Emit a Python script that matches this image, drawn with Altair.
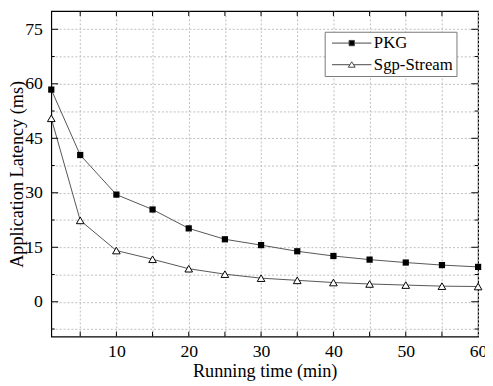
import altair as alt
import pandas as pd

times = [1, 5, 10, 15, 20, 25, 30, 35, 40, 45, 50, 55, 60]
pkg = [58.4, 40.4, 29.5, 25.4, 20.2, 17.2, 15.6, 13.9, 12.6, 11.6, 10.8, 10.1, 9.6]
sgp = [50.5, 22.4, 14.1, 11.7, 9.1, 7.6, 6.5, 5.9, 5.3, 4.9, 4.6, 4.3, 4.2]
series_names = ["PKG", "Sgp-Stream"]

x_grid = [5, 10, 15, 20, 25, 30, 35, 40, 45, 50, 55, 60]
x_tick_marks = [5, 10, 15, 20, 25, 30, 35, 40, 45, 50, 55]
y_grid = [-7.5, 0, 7.5, 15, 22.5, 30, 37.5, 45, 52.5, 60, 67.5, 75]
y_major = [0, 15, 30, 45, 60, 75]
y_minor = [-7.5, 7.5, 22.5, 37.5, 52.5, 67.5]

W, H = 434, 331
FONT = "Liberation Serif"

rows = []
for name, vals in zip(series_names, [pkg, sgp]):
    for t, v in zip(times, vals):
        rows.append({"time": t, "latency": v, "series": name})
df = pd.DataFrame(rows)

xscale = alt.Scale(domain=[1, 60], nice=False, zero=False)
yscale = alt.Scale(domain=[-9.6, 80], nice=False, zero=False)

common_axis = dict(
    ticks=False, domain=False,
    grid=True, gridColor="#bdbdbd", gridDash=[2, 2], gridWidth=1,
    labelFont=FONT, labelFontSize=18, labelColor="black", labelFontWeight="normal",
    labelFlush=False, labelOverlap=False,
    titleFont=FONT, titleFontSize=18.5, titleFontWeight="normal", titleColor="black",
)
xaxis = alt.Axis(values=x_grid, labelExpr="datum.value % 10 == 0 ? datum.label : ''",
                 title="Running time (min)", labelPadding=6, titlePadding=2, **common_axis)
yaxis = alt.Axis(values=y_grid, labelExpr="datum.value % 15 == 0 ? datum.label : ''",
                 title="Application Latency (ms)", labelPadding=9, titlePadding=-2, **common_axis)

X = alt.X("time:Q", scale=xscale, axis=xaxis)
Y = alt.Y("latency:Q", scale=yscale, axis=yaxis)

base = alt.Chart(df)

lines = base.mark_line(color="#555555", strokeWidth=1).encode(x=X, y=Y, detail="series:N")

pts_pkg = base.transform_filter(alt.datum.series == "PKG").mark_point(
    shape="square", filled=True, color="black", size=40, opacity=1
).encode(x=X, y=Y)

pts_sgp = base.transform_filter(alt.datum.series == "Sgp-Stream").mark_point(
    shape="triangle-up", filled=True, fill="white", stroke="black", strokeWidth=1, size=60, opacity=1
).encode(x=X, y=Y)

sq_path = "M-6.67,0H-0.9M0.9,0H6.67M-0.9,-0.9H0.9V0.9H-0.9Z"
tri_path = "M-6.67,0H-0.62M0.62,0H6.67M0,-1L1.15,0.85H-1.15Z"
leg = alt.Legend(title=None, orient="none", legendX=278, legendY=21,
                 symbolOffset=16, labelOffset=14, symbolSize=36,
                 labelFont=FONT, labelFontSize=17, labelColor="black")
legend_layer = base.mark_point(filled=True, opacity=0, size=36, strokeWidth=1).encode(
    x=X, y=Y,
    shape=alt.Shape("series:N", scale=alt.Scale(domain=series_names, range=[sq_path, tri_path]), legend=leg),
    fill=alt.Fill("series:N", scale=alt.Scale(domain=series_names, range=["black", "white"]), legend=leg),
    stroke=alt.Stroke("series:N", scale=alt.Scale(domain=series_names, range=["#444444", "#444444"]), legend=leg),
)

xt = pd.DataFrame({"v": x_tick_marks})
ymj = pd.DataFrame({"v": y_major})
ymn = pd.DataFrame({"v": y_minor})
XT = alt.X("v:Q", scale=xscale, axis=xaxis)
YT = alt.Y("v:Q", scale=yscale, axis=yaxis)
tick_style = dict(color="black", strokeWidth=1)

t_bottom = alt.Chart(xt).mark_rule(**tick_style).encode(x=XT, y=alt.value(H), y2=alt.value(H - 5))
t_top = alt.Chart(xt).mark_rule(**tick_style).encode(x=XT, y=alt.value(0), y2=alt.value(5))
t_left_mj = alt.Chart(ymj).mark_rule(**tick_style).encode(y=YT, x=alt.value(0), x2=alt.value(7))
t_right_mj = alt.Chart(ymj).mark_rule(**tick_style).encode(y=YT, x=alt.value(W), x2=alt.value(W - 7))
t_left_mn = alt.Chart(ymn).mark_rule(**tick_style).encode(y=YT, x=alt.value(0), x2=alt.value(3.5))
t_right_mn = alt.Chart(ymn).mark_rule(**tick_style).encode(y=YT, x=alt.value(W), x2=alt.value(W - 3.5))

chart = alt.layer(
    lines, pts_pkg, pts_sgp, legend_layer,
    t_bottom, t_top, t_left_mj, t_right_mj, t_left_mn, t_right_mn
).properties(
    width=W, height=H,
    autosize=alt.AutoSizeParams(type="none"),
    padding={"left": 44, "top": 0, "right": 7, "bottom": 47},
    background="white",
).configure(
    font=FONT,
).configure_axis(
    **common_axis
).configure_legend(
    strokeColor="#777777", fillColor="white", padding=3,
    labelFont=FONT, labelFontSize=17, labelColor="black",
    rowPadding=4, symbolOpacity=1, symbolStrokeWidth=1,
).configure_view(stroke="black", strokeWidth=1.2)

chart.save("out.html", embed_options={"renderer": "svg", "actions": False})
